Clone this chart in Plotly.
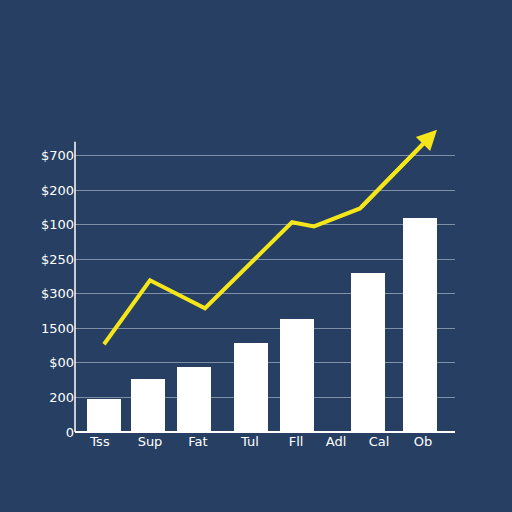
import plotly.graph_objects as go

# x positions (horizontal units) and labels
label_x = [100, 150, 198, 250, 296, 336, 379, 423]
labels = ["Tss", "Sup", "Fat", "Tul", "Fll", "Adl", "Cal", "Ob"]

bar_x = [104, 148, 194, 251, 297, 368, 420]
bar_h = [0.95, 1.53, 1.88, 2.57, 3.27, 4.6, 6.18]

line_x = [104, 150, 205, 292, 314, 360]
line_y = [2.54, 4.39, 3.58, 6.07, 5.95, 6.47]
arrow_tip = (437, 8.75)

tick_vals = [0, 1, 2, 3, 4, 5, 6, 7, 8]
tick_text = ["0", "200", "$00", "1500", "$300", "$250", "$100", "$200", "$700"]

bg = "#273f62"
fig = go.Figure()
fig.add_trace(go.Bar(x=bar_x, y=bar_h, width=34, marker=dict(color="white", line_width=0)))
fig.add_trace(go.Scatter(x=line_x + [arrow_tip[0] - 8], y=line_y + [arrow_tip[1] - 0.24], mode="lines",
                         line=dict(color="#f5e61a", width=4, shape="linear"), hoverinfo="skip"))
fig.add_annotation(x=arrow_tip[0], y=arrow_tip[1], ax=line_x[-1], ay=line_y[-1],
                   xref="x", yref="y", axref="x", ayref="y", text="",
                   showarrow=True, arrowhead=2, arrowsize=1.0, arrowwidth=4,
                   arrowcolor="#f5e61a", startstandoff=0, standoff=0)

# left axis line only reaches a bit above the top gridline
fig.add_shape(type="line", xref="paper", yref="y", x0=0, x1=0, y0=0, y1=8.4,
              line=dict(color="white", width=1.5))

fig.update_xaxes(range=[75, 455], tickvals=label_x, ticktext=labels, showgrid=False,
                 zeroline=False, showline=False, ticks="",
                 tickfont=dict(color="white", size=13, family="DejaVu Sans"))
fig.update_yaxes(range=[0, 9], tickvals=tick_vals, ticktext=tick_text,
                 gridcolor="rgba(200,210,225,0.55)", gridwidth=1, zeroline=True,
                 zerolinecolor="white", zerolinewidth=2, showline=False, ticks="",
                 tickfont=dict(color="white", size=13, family="DejaVu Sans"))
fig.update_layout(width=512, height=512, paper_bgcolor=bg, plot_bgcolor=bg,
                  showlegend=False, bargap=0,
                  margin=dict(l=75, r=57, t=121, b=80))
fig.write_html("out.html", config={"displayModeBar": False},
               post_script="document.body.style.margin='0';document.body.style.background='%s';" % bg)
